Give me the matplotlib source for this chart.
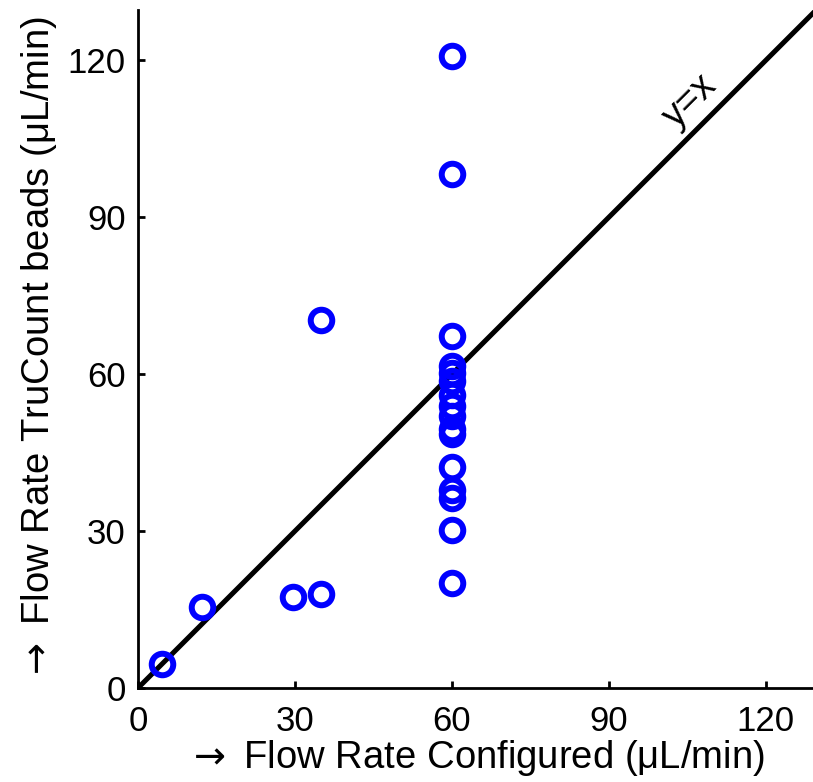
import matplotlib
matplotlib.use("Agg")
import matplotlib.pyplot as plt

# Data
configured = [4.5, 12.3, 29.7, 34.9, 34.9,
              60, 60, 60, 60, 60, 60, 60, 60, 60, 60, 60, 60, 60, 60, 60, 60]
measured = [4.6, 15.4, 17.3, 17.9, 70.4,
            120.8, 98.2, 67.3, 61.6, 60.3, 58.6, 56.0, 54.0, 52.0, 49.5, 48.5,
            42.3, 37.8, 36.3, 30.2, 20.0]
ticks = [0, 30, 60, 90, 120]
xlabel = r"$\rightarrow$ Flow Rate Configured (\u03bcL/min)".replace("\\u03bc", "\u03bc")
ylabel = r"$\rightarrow$ Flow Rate TruCount beads (\u03bcL/min)".replace("\\u03bc", "\u03bc")

plt.rcParams['font.family'] = ['Liberation Sans', 'DejaVu Sans']
plt.rcParams['mathtext.fontset'] = 'dejavusans'

W, H = 813, 782
fig = plt.figure(figsize=(W / 100, H / 100), dpi=100)
ax = fig.add_axes([138 / W, 94 / H, 675 / W, 678 / H])

ax.plot([0, 135], [0, 135], color='black', lw=3.6, zorder=2, clip_on=True)
ax.plot(configured, measured, linestyle='none', marker='o', markersize=15.5,
        markerfacecolor='none', markeredgecolor='#0000ff', markeredgewidth=4.3,
        zorder=3, clip_on=False)

ax.set_xlim(0, 129)
ax.set_ylim(0, 129.6)
ax.set_xticks(ticks)
ax.set_yticks(ticks)
for s in ['top', 'right']:
    ax.spines[s].set_visible(False)
for s in ['left', 'bottom']:
    ax.spines[s].set_linewidth(2)
ax.tick_params(direction='in', length=5, width=2, labelsize=25, pad=9)
ax.tick_params(axis='x', pad=12)

ax.set_xlabel(xlabel, fontsize=27.5, labelpad=0)
ax.set_ylabel(ylabel, fontsize=27.5, labelpad=6)

ax.text(105.5, 112.2, "y=x", rotation=45, fontsize=27, ha='center', va='center',
        rotation_mode='anchor')

fig.savefig("out.png", dpi=100)
